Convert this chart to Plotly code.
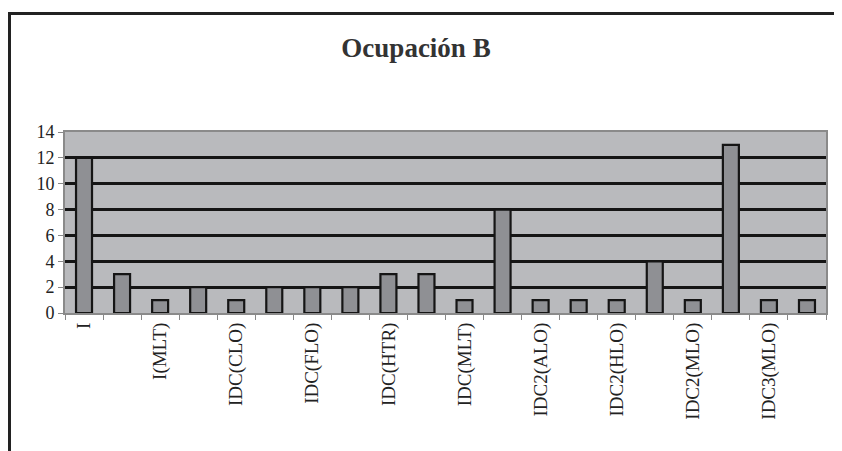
import plotly.graph_objects as go

categories = ["I", "I(HTR)", "I(MLT)", "IDC", "IDC(CLO)", "IDC(HLO)", "IDC(FLO)", "IDC(HLO)2",
              "IDC(HTR)", "IDC(MLO)", "IDC(MLT)", "IDC2", "IDC2(ALO)", "IDC2(FLO)", "IDC2(HLO)",
              "IDC2(HTR)", "IDC2(MLO)", "IDC3(HLO)", "IDC3(MLO)", "IDC3(MLT)"]
values = [12, 3, 1, 2, 1, 2, 2, 2, 3, 3, 1, 8, 1, 1, 1, 4, 1, 13, 1, 1]
shown_labels = ["I", "I(MLT)", "IDC(CLO)", "IDC(FLO)", "IDC(HTR)", "IDC(MLT)",
                "IDC2(ALO)", "IDC2(HLO)", "IDC2(MLO)", "IDC3(MLO)"]
y_ticks = [0, 2, 4, 6, 8, 10, 12, 14]

ticktext = [c if c in shown_labels and i % 2 == 0 else "" for i, c in enumerate(categories)]

SERIF = "Liberation Serif, Times New Roman, serif"

fig = go.Figure()
fig.add_trace(go.Bar(
    x=categories, y=values,
    marker=dict(color="#8f9094", line=dict(color="#151515", width=2.2)),
    width=0.42,
))

# page body has an 8px margin, so the figure is 8px smaller than the window
W, H = 834, 443
L, R, T, B = 57, 16, 124, 138
pw, ph = W - L - R, H - T - B

fig.update_layout(
    width=W, height=H,
    margin=dict(l=L, r=R, t=T, b=B),
    paper_bgcolor="white",
    plot_bgcolor="#b9babd",
    showlegend=False,
    title=dict(text="Ocupación B", x=408 / W, xref="container", xanchor="center",
               y=1 - 40 / H, yref="container", yanchor="middle",
               font=dict(family=SERIF, size=27, color="#333", weight="bold")),
    font=dict(family=SERIF, size=15, color="#222"),
    xaxis=dict(
        type="category", tickmode="array", tickvals=categories, ticktext=ticktext,
        tickangle=-90, tickson="boundaries", ticks="outside", ticklen=5,
        tickcolor="#888", tickwidth=1,
        showline=True, linecolor="#8a8a8a", linewidth=2, mirror=True,
        showgrid=False, range=[-0.5, 19.5],
        tickfont=dict(family=SERIF, size=19, color="#222"),
    ),
    yaxis=dict(
        range=[0, 14], tickvals=y_ticks, ticks="outside", ticklen=5,
        tickcolor="#888", showline=True, linecolor="#8a8a8a", linewidth=2, mirror=True,
        showgrid=True, gridcolor="#151515", gridwidth=2.5, zeroline=False,
        tickfont=dict(family=SERIF, size=18, color="#222"),
    ),
)

# outer frame of the chart image
fig.add_shape(type="rect", xref="paper", yref="paper",
              x0=(1.5 - L) / pw, x1=(W + 20 - L) / pw,
              y0=-(H + 20 - T - ph) / ph, y1=1 + (T - 5.5) / ph,
              line=dict(color="#222", width=3), layer="below")

fig.write_html("out.html")
